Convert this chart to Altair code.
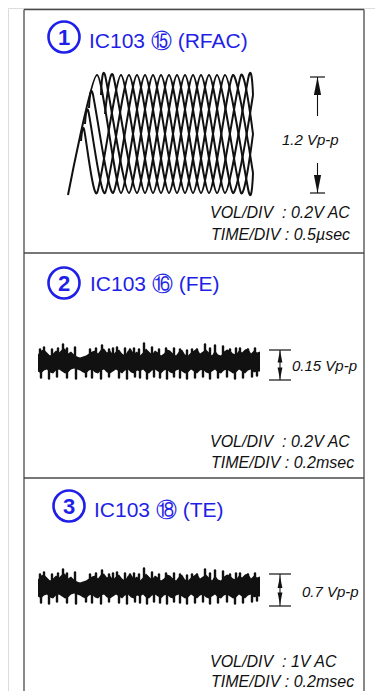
import altair as alt
import pandas as pd

BLUE = "#1f1fe8"
INK = "#111111"
FONT = "Liberation Sans"

# ---------------- frame (outer box + separators) ----------------
FRAME_X = [24, 364, 24, 24, 24]
FRAME_X2 = [24, 364, 364, 364, 364]
FRAME_Y = [9.5, 9.5, 9.5, 253, 478]
FRAME_Y2 = [699, 699, 9.5, 253, 478]

# ---------------- panel 1: RFAC eye pattern (turning points of each trace) ----------------
EYE_TRACES = {
    "t97": ([68, 97, 121, 145, 169, 193, 217, 241, 253],
            [195, 75, 193, 75, 193, 75, 193, 75, 134]),
    "t105": ([101, 105, 129, 153, 177, 201, 225, 249, 253],
             [95, 75, 193, 75, 193, 75, 193, 75, 95]),
    "t113": ([105, 113, 137, 161, 185, 209, 233, 253],
             [114, 75, 193, 75, 193, 75, 193, 95]),
    "t89": ([89, 92.6, 113, 137, 161, 185, 209, 233, 253],
            [108, 93, 193, 75, 193, 75, 193, 75, 173]),
    "t81": ([85, 88.3, 105, 129, 153, 177, 201, 225, 249, 253],
            [124, 111, 193, 75, 193, 75, 193, 75, 193, 173]),
    "t73": ([81, 84, 97, 121, 145, 169, 193, 217, 241, 253],
            [141, 129, 193, 75, 193, 75, 193, 75, 193, 134]),
}

# ---------------- panels 2 & 3: noise bands ----------------
NOISE_CENTERS = [361.5, 586.5]
NOISE_X = list(range(38, 261, 3))
NOISE_UP = [7, 11, 12, 9, 6, 8, 11, 9, 12, 13, 8, 10, 7, 5, 4, 5, 6, 8, 10, 11,
            8, 12, 13, 9, 11, 7, 10, 12, 8, 6, 11, 12, 8, 10, 6, 9, 13, 10, 7, 11,
            9, 6, 8, 12, 11, 8, 6, 10, 12, 7, 6, 9, 11, 13, 8, 10, 12, 9, 6, 11,
            7, 6, 10, 12, 11, 8, 7, 11, 9, 12, 13, 8, 11, 9, 10]
NOISE_DOWN = [10, 12, 9, 8, 11, 12, 9, 8, 10, 12, 11, 8, 7, 8, 9, 11, 12, 9, 8, 11,
              12, 9, 8, 11, 12, 10, 8, 10, 12, 9, 8, 11, 12, 9, 10, 8, 11, 12, 9, 8,
              10, 12, 9, 8, 11, 12, 9, 8, 10, 12, 11, 8, 10, 12, 9, 8, 11, 12, 10, 8,
              11, 12, 9, 8, 10, 12, 11, 8, 10, 12, 9, 8, 11, 10, 10]
SPIKE_UP_X = [40, 44, 52, 58, 63, 67, 75, 90, 96, 102, 109, 113, 117, 125, 130, 134,
              139, 144, 152, 159, 166, 174, 180, 187, 192, 197, 205, 210, 215, 223,
              230, 236, 240, 248, 255]
SPIKE_UP_H = [12, 14, 12, 13, 17, 13, 14, 12, 13, 16, 12, 13, 14, 13, 12, 13,
              12, 18, 14, 12, 13, 13, 12, 11, 12, 12, 17, 13, 16, 15,
              12, 13, 13, 12, 13]
SPIKE_DN_X = [41, 49, 57, 67, 76, 86, 92, 101, 109, 119, 127, 135, 140, 147, 154, 160,
              167, 174, 180, 187, 195, 203, 210, 218, 227, 235, 243, 252, 257]
SPIKE_DN_D = [16, 17, 15, 16, 17, 15, 16, 17, 15, 16, 17, 15, 16, 17, 15, 16,
              17, 15, 16, 17, 16, 15, 17, 16, 15, 17, 16, 15, 14]

# ---------------- amplitude markers ----------------
BAR_X = [310, 310, 269, 269, 269, 269]
BAR_X2 = [325, 325, 291, 291, 291, 291]
BAR_Y = [77, 193, 350, 380, 574, 606]
STEM_X = [317.5, 317.5, 280, 280]
STEM_Y = [77, 163, 350, 574]
STEM_Y2 = [116, 193, 380, 606]
HEAD_UP_X = [317.5, 280, 280]
HEAD_UP_Y = [86, 356.5, 582]
HEAD_UP_SIZE = [324, 144, 144]
HEAD_DN_X = [317.5, 280, 280]
HEAD_DN_Y = [184, 373.5, 598.5]
HEAD_DN_SIZE = [324, 144, 144]

# ---------------- headings ----------------
BADGE_X = [64, 64, 69]
BADGE_Y = [37, 283, 506]
BADGE_TXT = ["1", "2", "3"]
TITLE_X = [89, 90, 94]
TITLE_Y = [48, 291, 517]
TITLE_TXT = ["IC103 \u246e (RFAC)", "IC103 \u246f (FE)", "IC103 \u2471 (TE)"]

AMP_X = [282, 292, 302]
AMP_Y = [145, 371, 596.5]
AMP_TXT = ["1.2 Vp-p", "0.15 Vp-p", "0.7 Vp-p"]

SET_X = [210, 211, 210, 211, 210, 211]
SET_Y = [218, 240, 447, 468, 667, 687]
SET_TXT = ["VOL/DIV \u00a0: 0.2V AC", "TIME/DIV : 0.5\u00b5sec",
           "VOL/DIV \u00a0: 0.2V AC", "TIME/DIV : 0.2msec",
           "VOL/DIV \u00a0: 1V AC", "TIME/DIV : 0.2msec"]

# ---------------- build tables ----------------
frame_df = pd.DataFrame({"x": FRAME_X, "x2": FRAME_X2, "y": FRAME_Y, "y2": FRAME_Y2})

eye_rows = []
for name, (xs, ys) in EYE_TRACES.items():
    for i, (xv, yv) in enumerate(zip(xs, ys)):
        eye_rows.append({"trace": name, "i": i, "x": xv, "y": yv})
eye_df = pd.DataFrame(eye_rows)

noise_rows = []
for p, c in enumerate(NOISE_CENTERS):
    for xv, u, d in zip(NOISE_X, NOISE_UP, NOISE_DOWN):
        noise_rows.append({"panel": p, "x": xv, "top": c - u, "bot": c + d})
noise_df = pd.DataFrame(noise_rows)

spike_rows = []
for c in NOISE_CENTERS:
    for xv, h in zip(SPIKE_UP_X, SPIKE_UP_H):
        spike_rows.append({"x": xv, "y": c - 5, "y2": c - h})
    for xv, d in zip(SPIKE_DN_X, SPIKE_DN_D):
        spike_rows.append({"x": xv, "y": c + 5, "y2": c + d})
spike_df = pd.DataFrame(spike_rows)

bar_df = pd.DataFrame({"x": BAR_X, "x2": BAR_X2, "y": BAR_Y})
stem_df = pd.DataFrame({"x": STEM_X, "y": STEM_Y, "y2": STEM_Y2})
up_df = pd.DataFrame({"x": HEAD_UP_X, "y": HEAD_UP_Y, "s": HEAD_UP_SIZE})
dn_df = pd.DataFrame({"x": HEAD_DN_X, "y": HEAD_DN_Y, "s": HEAD_DN_SIZE})
badge_df = pd.DataFrame({"x": BADGE_X, "y": BADGE_Y, "t": BADGE_TXT})
badge_df["ty"] = badge_df["y"] + 8
title_df = pd.DataFrame({"x": TITLE_X, "y": TITLE_Y, "t": TITLE_TXT})
amp_df = pd.DataFrame({"x": AMP_X, "y": AMP_Y, "t": AMP_TXT})
set_df = pd.DataFrame({"x": SET_X, "y": SET_Y, "t": SET_TXT})

# page has an 8px margin: the plot spans page pixels 8..375 and 8..691
XS = alt.Scale(domain=[8, 375], nice=False, zero=False)
YS = alt.Scale(domain=[691, 8], nice=False, zero=False)


def X(f="x"):
    return alt.X(f"{f}:Q", scale=XS, axis=None)


def Y(f="y"):
    return alt.Y(f"{f}:Q", scale=YS, axis=None)


frame = alt.Chart(frame_df).mark_rule(color="#4a4a4a", strokeWidth=1.3, clip=True).encode(
    x=X(), x2="x2:Q", y=Y(), y2="y2:Q")

eye = alt.Chart(eye_df).mark_line(
    interpolate="cardinal", tension=0.35, color=INK, strokeWidth=2.0
).encode(x=X(), y=Y(), detail="trace:N", order="i:Q")

noise = alt.Chart(noise_df).mark_area(color=INK, interpolate="linear").encode(
    x=X(), y=Y("top"), y2="bot:Q", detail="panel:N")

spikes = alt.Chart(spike_df).mark_rule(color=INK, strokeWidth=2.4, strokeCap="round").encode(
    x=X(), y=Y(), y2="y2:Q")

bars = alt.Chart(bar_df).mark_rule(color=INK, strokeWidth=1.2).encode(
    x=X(), x2="x2:Q", y=Y())
stems = alt.Chart(stem_df).mark_rule(color=INK, strokeWidth=1.1).encode(
    x=X(), y=Y(), y2="y2:Q")
heads_up = alt.Chart(up_df).mark_point(
    shape="M0,-1L0.4,1L-0.4,1Z", filled=True, color=INK, opacity=1
).encode(x=X(), y=Y(), size=alt.Size("s:Q", scale=None, legend=None))
heads_dn = alt.Chart(dn_df).mark_point(
    shape="M0,1L0.4,-1L-0.4,-1Z", filled=True, color=INK, opacity=1
).encode(x=X(), y=Y(), size=alt.Size("s:Q", scale=None, legend=None))

badges = alt.Chart(badge_df).mark_point(
    shape="circle", filled=False, color=BLUE, strokeWidth=2.6, size=961, opacity=1
).encode(x=X(), y=Y())
badge_txt = alt.Chart(badge_df).mark_text(
    font=FONT, fontSize=22, fontWeight="bold", color=BLUE, align="center", baseline="alphabetic"
).encode(x=X(), y=Y("ty"), text="t:N")
titles = alt.Chart(title_df).mark_text(
    font=FONT, fontSize=21, color=BLUE, align="left", baseline="alphabetic"
).encode(x=X(), y=Y(), text="t:N")
amps = alt.Chart(amp_df).mark_text(
    font=FONT, fontSize=15, fontStyle="italic", color=INK, align="left", baseline="alphabetic"
).encode(x=X(), y=Y(), text="t:N")
sets = alt.Chart(set_df).mark_text(
    font=FONT, fontSize=16, fontStyle="italic", color=INK, align="left", baseline="alphabetic"
).encode(x=X(), y=Y(), text="t:N")

chart = alt.layer(
    frame, eye, noise, spikes, bars, stems, heads_up, heads_dn,
    badges, badge_txt, titles, amps, sets
).properties(
    width=367, height=683, padding=0, autosize=alt.AutoSizeParams(type="none")
).configure_view(stroke=None).configure(background="white")

chart.save("out.html", embed_options={"renderer": "svg", "actions": False})
